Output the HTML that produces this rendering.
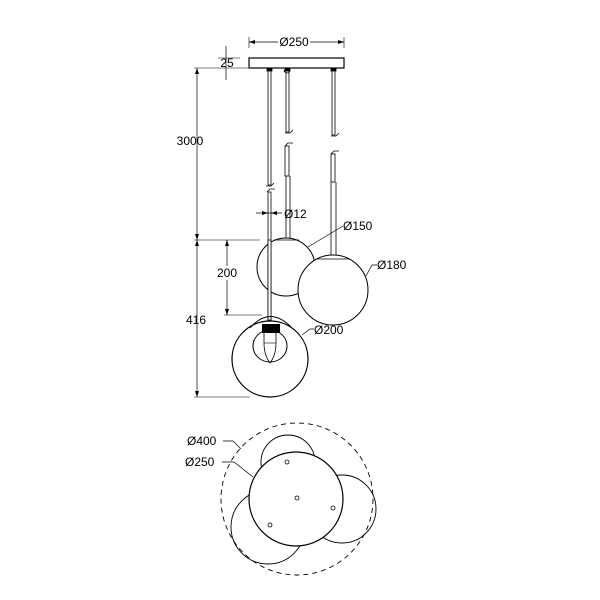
<!DOCTYPE html>
<html><head><style>body{margin:0;background:#fff}svg{display:block}</style></head><body>
<svg width="600" height="600" viewBox="0 0 600 600" font-family="Liberation Sans, sans-serif" font-size="12" fill="none" stroke="#000">
<!-- canopy -->
<rect x="249" y="58" width="95" height="10" stroke-width="1.2"/>
<!-- Ø250 dim -->
<line x1="249" y1="37" x2="249" y2="48" stroke-width="0.6"/><line x1="344" y1="37" x2="344" y2="48" stroke-width="0.6"/>
<line x1="249" y1="42" x2="278" y2="42" stroke-width="0.7"/><line x1="310" y1="42" x2="344" y2="42" stroke-width="0.7"/>
<path d="M249 42l6 -2v4z M344 42l-6 -2v4z" fill="#000" stroke="none"/>
<text x="294" y="46" text-anchor="middle" fill="#000" stroke="none">Ø250</text>
<!-- 25 dim -->
<line x1="226" y1="46" x2="226" y2="80" stroke-width="0.7"/>
<line x1="218" y1="58" x2="240" y2="58" stroke-width="0.6"/><line x1="194" y1="68" x2="248" y2="68" stroke-width="0.6"/>
<text x="227" y="67" text-anchor="middle" fill="#000" stroke="none">25</text>
<!-- 3000/416 -->
<line x1="197" y1="68" x2="197" y2="397" stroke-width="0.7"/>
<line x1="194" y1="240" x2="260" y2="240" stroke-width="0.6"/>
<line x1="194" y1="397" x2="250" y2="397" stroke-width="0.6"/>
<path d="M197 68l-2 6h4z M197 240l-2 -6h4z M197 240l-2 6h4z M197 397l-2 -6h4z" fill="#000" stroke="none"/>
<text x="190" y="145" text-anchor="middle" fill="#000" stroke="none">3000</text>
<text x="196" y="324" text-anchor="middle" fill="#000" stroke="none">416</text>
<!-- 200 -->
<line x1="227" y1="240" x2="227" y2="315" stroke-width="0.7"/>
<line x1="224" y1="315" x2="262" y2="315" stroke-width="0.6"/>
<path d="M227 240l-2 6h4z M227 315l-2 -6h4z" fill="#000" stroke="none"/>
<rect x="215" y="266" width="24" height="14" fill="#fff" stroke="none"/>
<text x="227" y="277" text-anchor="middle" fill="#000" stroke="none">200</text>
<!-- rods -->
<g stroke-width="0.8">
<rect x="268" y="70" width="3" height="115"/><rect x="286" y="70" width="3" height="62"/><rect x="332" y="70" width="3" height="65"/>
<rect x="267" y="68" width="5" height="3" fill="#000"/><rect x="285" y="68" width="5" height="3" fill="#000"/><rect x="331" y="68" width="5" height="3" fill="#000"/>
<path d="M284 70a3 3 0 0 0 6 0"/>
<path d="M266 186h5l3 -3 M285 133h5l3 -3 M331 136h5l3 -3"/>
<path d="M267 192l3 -3h5 M285 146l3 -3h5 M331 154l3 -3h5"/>
<rect x="268" y="192" width="3" height="128"/>
<rect x="285" y="146" width="4" height="30"/><line x1="286" y1="176" x2="286" y2="238"/><line x1="290" y1="176" x2="290" y2="238"/>
<rect x="331" y="154" width="4" height="28"/><line x1="331" y1="182" x2="331" y2="256"/><line x1="336" y1="182" x2="336" y2="256"/>
</g>
<!-- Ø12 -->
<line x1="256" y1="213" x2="282" y2="213" stroke-width="0.7"/>
<path d="M268 213l-6 -2v4z M271 213l6 -2v4z" fill="#000" stroke="none"/>
<text x="284" y="218" fill="#000" stroke="none">Ø12</text>
<!-- spheres -->
<circle cx="286" cy="267" r="29" stroke-width="1"/>
<line x1="274" y1="240" x2="299" y2="240" stroke-width="0.7"/>
<circle cx="333" cy="290" r="35" fill="#fff" stroke-width="1"/>
<line x1="316" y1="259" x2="350" y2="259" stroke-width="0.7"/>
<path d="M308 247L343 226" stroke-width="0.7"/><text x="343" y="230" fill="#000" stroke="none">Ø150</text>
<path d="M366 276L372 265h5" stroke-width="0.7"/><text x="377" y="269" fill="#000" stroke="none">Ø180</text>
<!-- Ø200 pendant -->
<circle cx="270" cy="359" r="38" fill="#fff" stroke-width="1.2"/>
<rect x="268" y="240" width="3" height="80" fill="#fff" stroke-width="0.8"/>
<path d="M250 328Q270 305 292 328" stroke-width="0.9"/>
<ellipse cx="270" cy="346" rx="17" ry="16" stroke-width="1"/>
<rect x="262" y="324" width="18" height="9" fill="#000" stroke="none"/>
<path d="M264 333v10q0 12 6 20q6 -8 6 -20v-10" stroke-width="0.8"/>
<line x1="264" y1="343" x2="276" y2="343" stroke-width="0.6"/>
<path d="M302 335L310 329h4" stroke-width="0.7"/><text x="314" y="334" fill="#000" stroke="none">Ø200</text>
<!-- bottom view -->
<circle cx="297" cy="499" r="76" stroke-dasharray="5,4" stroke-width="0.9"/>
<circle cx="288" cy="462" r="27" stroke-width="0.9"/>
<circle cx="342" cy="509" r="34" stroke-width="0.9"/>
<circle cx="268" cy="527" r="37" stroke-width="0.9"/>
<circle cx="296" cy="499" r="47" fill="#fff" stroke-width="1.2"/>
<g stroke-width="0.8"><circle cx="287" cy="462" r="2"/><circle cx="297" cy="498" r="2"/><circle cx="333" cy="508" r="2"/><circle cx="270" cy="525" r="2"/></g>
<path d="M223 441h10l8 8" stroke-width="0.7"/><text x="187" y="445" fill="#000" stroke="none">Ø400</text>
<path d="M222 462h12l19 15" stroke-width="0.7"/><text x="185" y="466" fill="#000" stroke="none">Ø250</text>
</svg>
</body></html>
